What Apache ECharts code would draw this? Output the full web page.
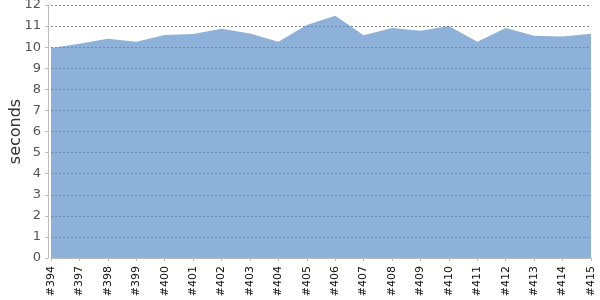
<!DOCTYPE html>
<html><head><meta charset="utf-8">
<script src="https://cdn.jsdelivr.net/npm/echarts@6/dist/echarts.min.js"></script>
<style>html,body{margin:0;padding:0;background:#fff}#c{width:600px;height:300px}</style>
</head><body><div id="c"></div>
<script>
const builds = ['#394','#397','#398','#399','#400','#401','#402','#403','#404','#405','#406','#407','#408','#409','#410','#411','#412','#413','#414','#415'];
const seconds = [9.96,10.16,10.4,10.26,10.58,10.62,10.87,10.65,10.26,11.05,11.49,10.56,10.91,10.78,11.0,10.26,10.91,10.54,10.51,10.64];
const yTicks = [0,1,2,3,4,5,6,7,8,9,10,11,12];

const chart = echarts.init(document.getElementById('c'), null, {renderer:'canvas'});
chart.setOption({
  animation:false,
  grid:{left:51,right:9,top:5,bottom:42,containLabel:false,outerBoundsMode:'none'},
  xAxis:{
    type:'category', data:builds, boundaryGap:false, offset:4,
    axisLine:{lineStyle:{color:'#bbb',width:1}},
    axisTick:{show:true,alignWithLabel:true,length:3,lineStyle:{color:'#bbb'}},
    axisLabel:{rotate:90,interval:0,margin:4,fontFamily:'DejaVu Sans',fontSize:11,color:'#111'},
    splitLine:{show:false}
  },
  yAxis:{
    type:'value', min:yTicks[0], max:yTicks[yTicks.length-1], interval:1, offset:3,
    name:'seconds', nameLocation:'middle', nameRotate:90, nameGap:24, nameMoveOverlap:false,
    nameTextStyle:{fontFamily:'DejaVu Sans',fontSize:16,color:'#333'},
    axisLine:{show:true,lineStyle:{color:'#bbb',width:1}},
    axisTick:{show:true,length:3,lineStyle:{color:'#bbb'}},
    axisLabel:{margin:7,fontFamily:'DejaVu Sans',fontSize:13,color:'#555'},
    splitLine:{show:true,lineStyle:{color:'#888',type:[2,2],width:1}}
  },
  series:[{
    type:'line', data:seconds, symbol:'none', z:1,
    lineStyle:{width:0},
    areaStyle:{color:'rgb(94,144,201)',opacity:0.7}
  }]
});
</script></body></html>
